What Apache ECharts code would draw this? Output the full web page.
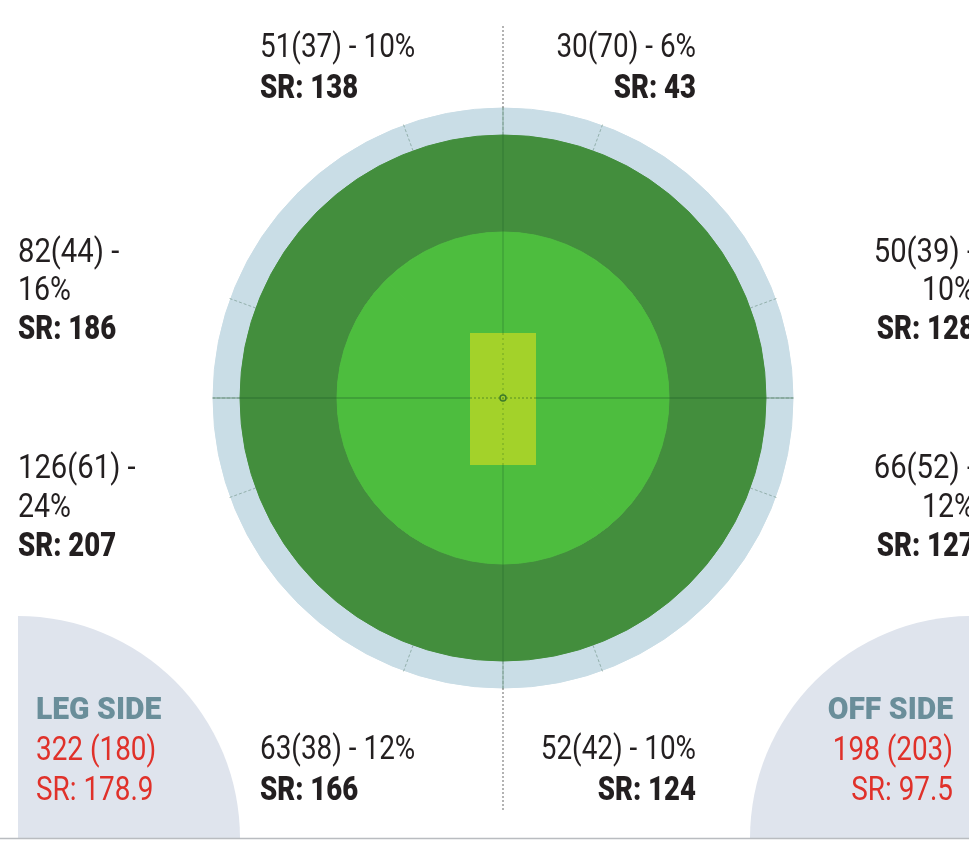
<!DOCTYPE html>
<html>
<head>
<meta charset="utf-8">
<title>Wagon wheel</title>
<script src="https://cdn.jsdelivr.net/npm/echarts@6/dist/echarts.min.js"></script>
<style>
  html, body { margin: 0; padding: 0; background: #fff; }
  #main { width: 969px; height: 847px; }
</style>
</head>
<body>
<div id="main"></div>
<script>
// zones, clockwise from the top (off side on the right)
var zoneNames = ['Long off', 'Cover', 'Point', 'Third man', 'Fine leg', 'Square leg', 'Midwicket', 'Long on'];
var zoneRuns  = [30, 50, 66, 52, 63, 126, 82, 51];
var zoneBalls = [70, 39, 52, 42, 38, 61, 44, 37];
var zonePct   = [6, 10, 12, 10, 12, 24, 16, 10];
var zoneSR    = [43, 128, 127, 124, 166, 207, 186, 138];

// side totals
var sideNames = ['LEG SIDE', 'OFF SIDE'];
var sideRuns  = [322, 198];
var sideBalls = [180, 203];
var sideSR    = ['178.9', '97.5'];

// boundary tick angles (deg from the top, clockwise)
var tickAngles = [0, 20, 70, 90, 110, 160, 180, 200, 250, 270, 290, 340];

var cx = 503, cy = 398;
var rBoundary = 290, rOutfield = 263, rInfield = 166;

var FONT = 'Roboto, "Noto Sans", sans-serif';
var DARK = '#231f20';

function ring(name, inner, outer, color) {
    return {
        type: 'pie',
        name: name,
        silent: true,
        center: [cx, cy],
        radius: [inner, outer],
        startAngle: 90,
        clockwise: true,
        label: { show: false },
        labelLine: { show: false },
        // border in the same colour hides the seams between zones
        itemStyle: { color: color, borderColor: color, borderWidth: 1 },
        data: zoneNames.map(function (n) { return { name: n, value: 1 }; })
    };
}

// one line of text, condensed with scaleX
function txt(str, x, y, align, size, weight, color, sx) {
    return {
        type: 'text',
        x: x, y: y,
        scaleX: sx || 0.8,
        z: 20,
        style: {
            text: str, x: 0, y: 0,
            textAlign: align, textVerticalAlign: 'middle',
            font: weight + ' ' + size + 'px ' + FONT,
            fill: color
        }
    };
}

// where each zone label goes
var zoneLayout = [
    { x: 696, align: 'right', ys: [48, 89], wrap: false },
    { x: 975, align: 'right', ys: [253, 291, 330], wrap: true },
    { x: 975, align: 'right', ys: [469, 508, 547], wrap: true },
    { x: 696, align: 'right', ys: [750, 791], wrap: false },
    { x: 260, align: 'left', ys: [750, 791], wrap: false },
    { x: 18, align: 'left', ys: [469, 508, 547], wrap: true },
    { x: 18, align: 'left', ys: [253, 291, 330], wrap: true },
    { x: 260, align: 'left', ys: [48, 89], wrap: false }
];

var graphics = [];

// corner panels
graphics.push({ type: 'sector', z: 1, shape: { cx: 18, cy: 838, r: 222, r0: 0, startAngle: -Math.PI / 2, endAngle: 0 }, style: { fill: '#dfe4ed' } });
graphics.push({ type: 'sector', z: 1, shape: { cx: 972, cy: 838, r: 222, r0: 0, startAngle: Math.PI, endAngle: Math.PI * 1.5 }, style: { fill: '#dfe4ed' } });
graphics.push({ type: 'line', z: 2, shape: { x1: 0, y1: 838.5, x2: 969, y2: 838.5 }, style: { stroke: '#b9bcc0', lineWidth: 1.5 } });

// centre lines
graphics.push({ type: 'line', z: 10, shape: { x1: cx - rBoundary, y1: cy, x2: cx + rBoundary, y2: cy }, style: { stroke: 'rgba(30,90,40,0.55)', lineWidth: 1 } });
graphics.push({ type: 'line', z: 10, shape: { x1: cx, y1: cy - rBoundary, x2: cx, y2: cy + rBoundary }, style: { stroke: 'rgba(30,90,40,0.4)', lineWidth: 1 } });
graphics.push({ type: 'line', z: 10, shape: { x1: cx, y1: 26, x2: cx, y2: cy - rBoundary }, style: { stroke: '#9a9a9a', lineWidth: 1.5, lineDash: [2, 2] } });
graphics.push({ type: 'line', z: 10, shape: { x1: cx, y1: cy + rBoundary, x2: cx, y2: 812 }, style: { stroke: '#9a9a9a', lineWidth: 1.5, lineDash: [2, 2] } });

// boundary ticks
tickAngles.forEach(function (a) {
    var t = a * Math.PI / 180;
    var sx = Math.sin(t), sy = -Math.cos(t);
    graphics.push({
        type: 'line', z: 10,
        shape: { x1: cx + sx * rOutfield, y1: cy + sy * rOutfield, x2: cx + sx * (rBoundary + 3), y2: cy + sy * (rBoundary + 3) },
        style: { stroke: 'rgba(80,120,100,0.45)', lineWidth: 1, lineDash: [3, 2] }
    });
});

// pitch
graphics.push({ type: 'rect', z: 11, shape: { x: cx - 33, y: cy - 65, width: 66, height: 132 }, style: { fill: '#a3d22a' } });
graphics.push({ type: 'line', z: 12, shape: { x1: cx, y1: cy - 65, x2: cx, y2: cy + 67 }, style: { stroke: 'rgba(60,120,30,0.5)', lineWidth: 1, lineDash: [2, 3] } });
graphics.push({ type: 'line', z: 12, shape: { x1: cx - 33, y1: cy, x2: cx + 33, y2: cy }, style: { stroke: 'rgba(40,100,30,0.6)', lineWidth: 1, lineDash: [2, 2] } });
graphics.push({ type: 'circle', z: 13, shape: { cx: cx, cy: cy, r: 3 }, style: { fill: 'none', stroke: '#3d7a2a', lineWidth: 1.5 } });

// zone labels
zoneRuns.forEach(function (runs, i) {
    var L = zoneLayout[i];
    var sr = 'SR: ' + zoneSR[i];
    if (L.wrap) {
        graphics.push(txt(runs + '(' + zoneBalls[i] + ') -', L.x, L.ys[0], L.align, 34, 'normal', DARK, 0.86));
        graphics.push(txt(zonePct[i] + '%', L.x, L.ys[1], L.align, 34, 'normal', DARK, 0.84));
        graphics.push(txt(sr, L.x, L.ys[2], L.align, 34, '900', DARK, 0.81));
    } else {
        graphics.push(txt(runs + '(' + zoneBalls[i] + ') - ' + zonePct[i] + '%', L.x, L.ys[0], L.align, 34, 'normal', DARK, 0.82));
        graphics.push(txt(sr, L.x, L.ys[1], L.align, 34, '900', DARK, 0.81));
    }
});

// side totals
var sideLayout = [{ x: 36, align: 'left' }, { x: 953, align: 'right' }];
sideNames.forEach(function (n, i) {
    var L = sideLayout[i];
    graphics.push(txt(n, L.x, 711, L.align, 31, '900', '#6a8e9a', 0.97));
    graphics.push(txt(sideRuns[i] + ' (' + sideBalls[i] + ')', L.x, 751, L.align, 34, 'normal', '#e0312a', 0.82));
    graphics.push(txt('SR: ' + sideSR[i], L.x, 791, L.align, 34, 'normal', '#e0312a', 0.82));
});

var myChart = echarts.init(document.getElementById('main'));
myChart.setOption({
    animation: false,
    backgroundColor: '#ffffff',
    series: [
        ring('boundary', rOutfield, rBoundary, '#c9dde6'),
        ring('outfield', rInfield, rOutfield, '#438e3d'),
        ring('infield', 0, rInfield, '#4dbd3e')
    ],
    graphic: graphics
});
</script>
</body>
</html>
